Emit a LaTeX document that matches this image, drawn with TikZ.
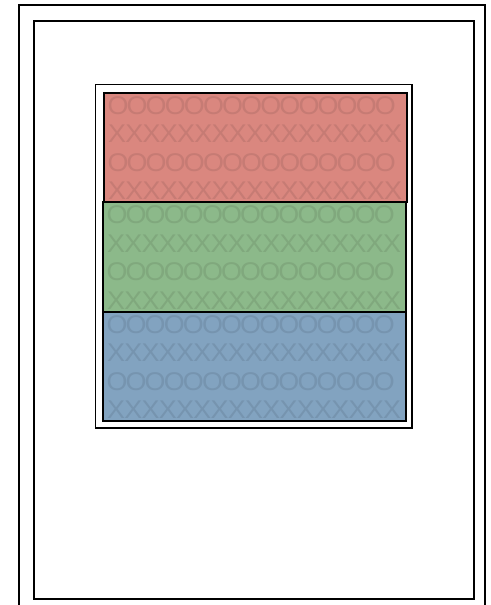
\documentclass[tikz,border=0pt]{standalone}
\usepackage{fontspec}
\setsansfont{Liberation Sans}
\usepackage{tikz}
\definecolor{bandred}{RGB}{218,135,127}
\definecolor{bandgreen}{RGB}{140,185,138}
\definecolor{bandblue}{RGB}{130,163,192}

\begin{document}
\begin{tikzpicture}[
    x=0.5pt, y=-0.5pt,
    % --- Frame styles ---
    frame/.style={draw=black, line width=1pt},
    stackframe/.style={draw=black, line width=0.8pt},
    band/.style={draw=black, line width=1pt},
    % --- Letter style ---
    glyph/.style={inner sep=0pt, font=\sffamily\fontsize{12.8}{13}\selectfont, anchor=center},
  ]
    \useasboundingbox (0,0) rectangle (491,605);

    % ===================== PAGE FRAMES =====================
    \draw[frame] (18.5,5) rectangle (485,620);
    \draw[frame] (34,21) rectangle (474,599);
    \draw[stackframe] (95.5,84.5) rectangle (412,428);

    % ===================== BANDS =====================
    \foreach \name/\col/\top/\lft in {red/bandred/92.5/104, green/bandgreen/202/103, blue/bandblue/311.5/103} {
      \draw[band, fill=\col] (\lft,\top) rectangle ++(303,109.5);
      \foreach \row in {0,1} {
        % O line
        \foreach \i in {0,...,14}
          \node[glyph, text=\col!91!black] (\name-o-\row-\i)
            at ({\lft+14+19.1*\i},{\top+13+57*\row}) {\scalebox{1.05}[1]{O}};
        % X line
        \foreach \i in {0,...,16}
          \node[glyph, text=\col!91!black] (\name-x-\row-\i)
            at ({\lft+13+17.26*\i},{\top+41.5+57*\row}) {\scalebox{1.05}[1]{X}};
      }
    }
  \end{tikzpicture}
\end{document}
